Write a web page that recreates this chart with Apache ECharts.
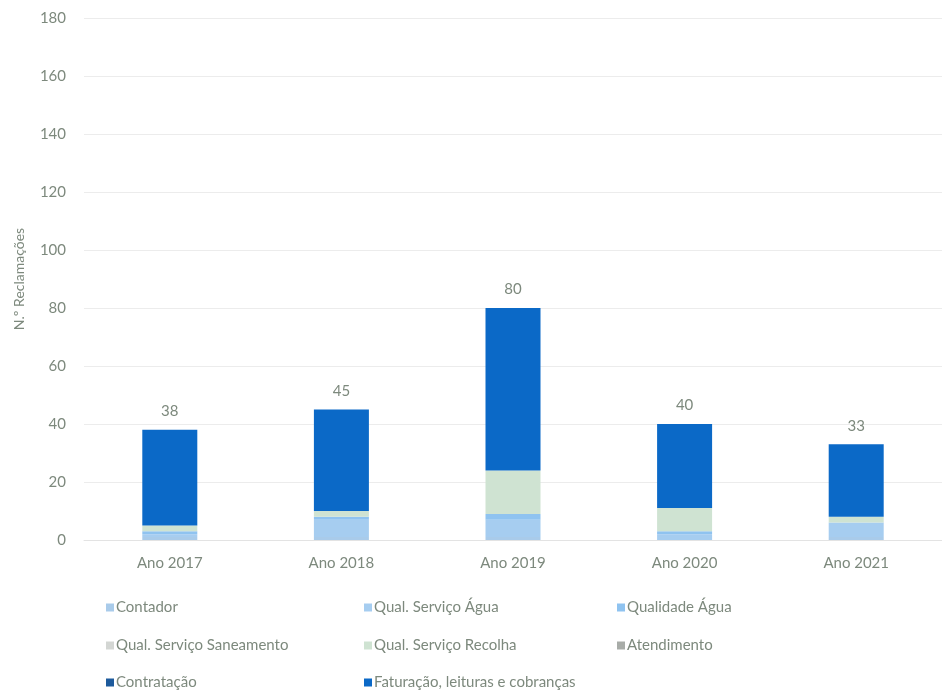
<!DOCTYPE html>
<html>
<head>
<meta charset="utf-8">
<script src="https://cdn.jsdelivr.net/npm/echarts@6/dist/echarts.min.js"></script>
<style>
  html, body { margin: 0; padding: 0; background: #ffffff; }
  #chart { width: 942px; height: 694px; }
</style>
</head>
<body>
<div id="chart"></div>
<script>
// Complaints per year, stacked by type
const years = ['Ano 2017', 'Ano 2018', 'Ano 2019', 'Ano 2020', 'Ano 2021'];

const contador        = [1, 1, 1, 0, 1];
const qualServicoAgua = [1, 6, 6, 2, 5];
const qualidadeAgua   = [1, 1, 2, 1, 0];
const qualSaneamento  = [0, 0, 0, 0, 0];
const qualRecolha     = [2, 2, 15, 8, 2];
const atendimento     = [0, 0, 0, 0, 0];
const contratacao     = [0, 0, 0, 0, 0];
const faturacao       = [33, 35, 56, 29, 25];

const yTicks = [0, 20, 40, 60, 80, 100, 120, 140, 160, 180];

const seriesDefs = [
  { name: 'Contador',                        data: contador,        color: '#a9cbea' },
  { name: 'Qual. Serviço Água',              data: qualServicoAgua, color: '#a6cdf0' },
  { name: 'Qualidade Água',                  data: qualidadeAgua,   color: '#8fc3f0' },
  { name: 'Qual. Serviço Saneamento',        data: qualSaneamento,  color: '#d3d6d3' },
  { name: 'Qual. Serviço Recolha',           data: qualRecolha,     color: '#cfe3d2' },
  { name: 'Atendimento',                     data: atendimento,     color: '#a8aca8' },
  { name: 'Contratação',                     data: contratacao,     color: '#1d5a9c' },
  { name: 'Faturação, leituras e cobranças', data: faturacao,       color: '#0b69c7' }
];

// legend slots: [column left, row top] for each series, in series order
const legendSlots = [
  [106, 600], [364, 600], [617, 600],
  [106, 638], [364, 638], [617, 638],
  [106, 675], [364, 675]
];

const totals = years.map((_, i) => seriesDefs.reduce((s, d) => s + d.data[i], 0));

const textColor = '#7d897d';
const fontFamily = 'Lato, "Open Sans", sans-serif';

const chart = echarts.init(document.getElementById('chart'));

const series = seriesDefs.map((d, idx) => ({
  name: d.name,
  type: 'bar',
  stack: 'total',
  barWidth: 55,
  data: d.data,
  itemStyle: { color: d.color },
  label: idx === seriesDefs.length - 1 ? {
    show: true,
    position: 'top',
    distance: 11,
    color: textColor,
    fontSize: 15,
    fontFamily: fontFamily,
    formatter: p => String(totals[p.dataIndex])
  } : { show: false }
}));

const legends = seriesDefs.map((d, i) => ({
  left: legendSlots[i][0],
  top: legendSlots[i][1],
  padding: 0,
  itemWidth: 8,
  itemHeight: 8,
  icon: 'rect',
  data: [d.name],
  textStyle: { color: textColor, fontSize: 15, fontFamily: fontFamily, padding: [0, 0, 0, -3] }
}));

chart.setOption({
  animation: false,
  textStyle: { fontFamily: fontFamily },
  grid: { left: 84, right: 0, top: 18, bottom: 154 },
  legend: legends,
  xAxis: {
    type: 'category',
    data: years,
    axisLine: { show: true, lineStyle: { color: '#e3e3e3' } },
    axisTick: { show: false },
    axisLabel: { color: textColor, fontSize: 15, margin: 16, fontFamily: fontFamily }
  },
  yAxis: {
    type: 'value',
    min: yTicks[0],
    max: yTicks[yTicks.length - 1],
    interval: 20,
    name: 'N.º Reclamações',
    nameLocation: 'middle',
    nameGap: 58,
    nameRotate: 90,
    nameTextStyle: { color: textColor, fontSize: 14, fontFamily: fontFamily },
    axisLine: { show: false },
    axisTick: { show: false },
    axisLabel: { color: textColor, fontSize: 15, margin: 18, fontFamily: fontFamily },
    splitLine: { lineStyle: { color: '#ececec', width: 1 } }
  },
  series: series
});
</script>
</body>
</html>
